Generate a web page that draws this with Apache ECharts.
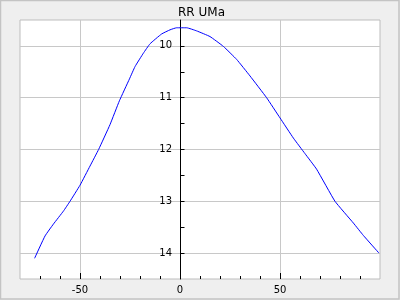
<!DOCTYPE html>
<html>
<head>
<meta charset="utf-8">
<script src="https://cdn.jsdelivr.net/npm/echarts@6/dist/echarts.min.js"></script>
<style>
html,body{margin:0;padding:0;background:#efefef;}
#c{width:400px;height:300px;}
</style>
</head>
<body>
<div id="c"></div>
<script>
const titleText = 'RR UMa';
const phase = [-72.7, -67.5, -63.3, -58.3, -55, -50, -45, -40.7, -35, -30.3, -25.3, -22.5, -18.3, -15, -9.2, -5, -1.7, 3.3, 8.3, 15, 21.7, 28.3, 35, 43.3, 50, 56.7, 62.5, 68.3, 77.5, 86.7, 91.7, 99.5];
const mag = [14.10, 13.67, 13.44, 13.19, 13.0, 12.69, 12.32, 12.0, 11.52, 11.06, 10.64, 10.40, 10.14, 9.96, 9.77, 9.69, 9.65, 9.65, 9.71, 9.82, 10.01, 10.26, 10.58, 11.0, 11.39, 11.78, 12.08, 12.38, 13.0, 13.42, 13.66, 14.0];
const xTicks = [-50, 0, 50];
const xMinorTicks = [-70, -60, -40, -30, -20, -10, 10, 20, 30, 40, 60, 70, 80, 90];
const yTicks = [10, 11, 12, 13, 14];
const yAllTicks = [10, 10.5, 11, 11.5, 12, 12.5, 13, 13.5, 14];

const X_MIN = -80, X_MAX = 100, GRID_W = 360;
const chart = echarts.init(document.getElementById('c'), null, {renderer: 'canvas'});
const font = 'DejaVu Sans';
const xBase = {
  type: 'value', min: X_MIN, max: X_MAX, position: 'bottom', interval: 10,
  axisLine: {show: false, onZero: false}
};
const yBase = {
  type: 'value', min: 9.5, max: 14.5, inverse: true, position: 'left', interval: 0.5
};
// place the y axis at x = 0
const zeroOffset = -(0 - X_MIN) / (X_MAX - X_MIN) * GRID_W;
chart.setOption({
  backgroundColor: '#efefef',
  animation: false,
  title: {
    text: titleText, left: 173, top: 2,
    textStyle: {fontFamily: font, fontSize: 12, fontWeight: 'normal', color: '#000'}
  },
  graphic: [{
    type: 'rect', shape: {x: 0.5, y: 0.5, width: 398.5, height: 298.5},
    style: {fill: 'none', stroke: '#c4c4c4', lineWidth: 1.5}, silent: true
  }],
  grid: {
    left: 20, top: 20, width: GRID_W, height: 259,
    outerBoundsMode: 'none', containLabel: false,
    show: true, backgroundColor: '#fff', borderColor: '#bdbdbd', borderWidth: 1
  },
  xAxis: [
    Object.assign({}, xBase, {
      axisTick: {show: true, inside: true, length: 3, customValues: xMinorTicks, lineStyle: {color: '#000'}},
      axisLabel: {show: false},
      splitLine: {show: false}
    }),
    Object.assign({}, xBase, {
      axisTick: {show: true, inside: true, length: 6, customValues: xTicks, lineStyle: {color: '#000'}},
      axisLabel: {show: true, customValues: xTicks, margin: 6, fontFamily: font, fontSize: 10, color: '#000'},
      splitLine: {show: true, lineStyle: {color: '#c8c8c8', width: 1}}
    })
  ],
  yAxis: [
    Object.assign({}, yBase, {
      offset: zeroOffset,
      axisLine: {show: true, onZero: false, lineStyle: {color: '#000', width: 1}},
      axisTick: {show: true, inside: true, length: 4.5, customValues: yAllTicks, lineStyle: {color: '#000'}},
      axisLabel: {show: true, customValues: yTicks, margin: 8, fontFamily: font, fontSize: 10, color: '#000'},
      splitLine: {show: false}
    }),
    Object.assign({}, yBase, {
      axisLine: {show: false, onZero: false},
      axisTick: {show: false, customValues: yTicks},
      axisLabel: {show: false},
      splitLine: {show: true, lineStyle: {color: '#c8c8c8', width: 1}}
    })
  ],
  series: [{
    type: 'line', xAxisIndex: 0, yAxisIndex: 0,
    data: phase.map((p, i) => [p, mag[i]]),
    showSymbol: false, symbol: 'none', smooth: 0.12,
    lineStyle: {color: '#0000ff', width: 1},
    z: 5
  }]
});
</script>
</body>
</html>
